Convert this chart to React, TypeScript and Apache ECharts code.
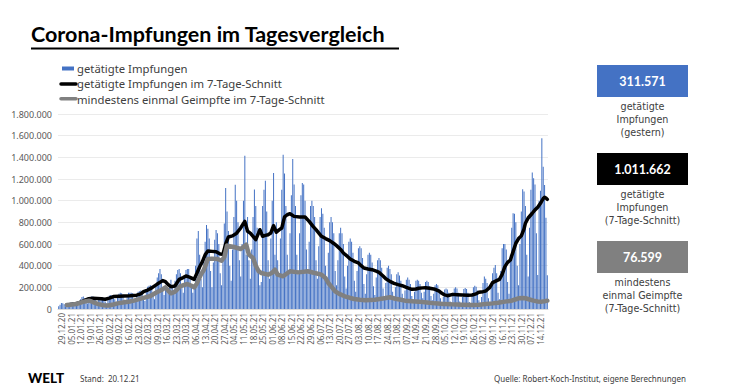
import React, { useEffect, useRef } from "react";
import * as echarts from "echarts";

// ---------- DATA ----------
// Daily vaccinations (thousands), starting Sun 27.12.20, then weekly rows Mon..Sun
const dailyDosesK: number[] = [
  25,
  40, 55, 52, 45, 22, 33, 25,
  55, 60, 62, 58, 60, 40, 30,
  75, 90, 110, 115, 100, 70, 50,
  95, 110, 115, 115, 110, 80, 55,
  90, 105, 105, 110, 100, 70, 50,
  105, 125, 130, 125, 130, 90, 65,
  115, 140, 150, 145, 135, 85, 60,
  120, 150, 150, 150, 145, 95, 65,
  135, 160, 165, 170, 165, 110, 75,
  170, 205, 215, 220, 215, 140, 90,
  230, 290, 330, 370, 320, 200, 130,
  200, 180, 190, 200, 270, 200, 140,
  260, 320, 360, 370, 330, 220, 150,
  300, 360, 370, 370, 280, 220, 150,
  200, 400, 650, 720, 500, 280, 200,
  450, 620, 776, 740, 650, 350, 200,
  430, 640, 730, 700, 600, 330, 220,
  480, 790, 1117, 900, 720, 400, 260,
  550, 850, 1148, 1000, 800, 450, 300,
  600, 1000, 1415, 500, 850, 450, 280,
  550, 850, 1102, 950, 750, 350, 220,
  250, 950, 1100, 1185, 900, 450, 280,
  650, 1000, 1255, 500, 800, 450, 300,
  650, 1100, 1425, 1250, 950, 500, 350,
  700, 1050, 1385, 1150, 950, 500, 320,
  700, 1050, 1163, 1150, 1000, 550, 330,
  620, 950, 1000, 950, 850, 450, 280,
  580, 850, 930, 880, 750, 400, 250,
  520, 800, 850, 800, 700, 350, 220,
  450, 700, 750, 700, 600, 300, 190,
  400, 620, 650, 620, 520, 260, 160,
  350, 560, 580, 560, 470, 230, 140,
  320, 500, 520, 500, 430, 210, 130,
  290, 450, 470, 450, 380, 190, 120,
  240, 380, 400, 370, 320, 160, 100,
  200, 320, 340, 310, 260, 140, 90,
  170, 270, 290, 270, 230, 120, 80,
  160, 260, 270, 260, 230, 150, 100,
  160, 250, 260, 250, 210, 120, 80,
  140, 220, 230, 220, 180, 100, 45,
  110, 180, 190, 180, 150, 70, 45,
  120, 190, 200, 190, 150, 70, 45,
  110, 185, 195, 185, 150, 65, 40,
  130, 200, 215, 205, 170, 80, 50,
  110, 240, 300, 280, 240, 100, 65,
  220, 330, 380, 406, 330, 150, 90,
  350, 560, 600, 600, 550, 250, 140,
  500, 750, 884, 880, 800, 400, 220,
  600, 900, 1106, 1084, 950, 500, 300,
  750, 1100, 1260, 1207, 1150, 700, 314,
  1000, 1092, 1576, 1314, 1145, 843, 312,
];

// 7-day average of all vaccinations (thousands), read at dates
const avgAllK: [string, number][] = [
  ["02.01.21", 38], ["06.01.21", 45], ["09.01.21", 50], ["12.01.21", 62], ["15.01.21", 80],
  ["18.01.21", 95], ["21.01.21", 100], ["24.01.21", 98], ["27.01.21", 94], ["30.01.21", 90],
  ["02.02.21", 100], ["05.02.21", 115], ["09.02.21", 118], ["13.02.21", 120], ["17.02.21", 122],
  ["22.02.21", 128], ["25.02.21", 140], ["27.02.21", 160], ["02.03.21", 175], ["05.03.21", 195],
  ["09.03.21", 230], ["13.03.21", 262], ["15.03.21", 252], ["17.03.21", 225], ["19.03.21", 206],
  ["22.03.21", 212], ["25.03.21", 274], ["28.03.21", 290], ["30.03.21", 305], ["02.04.21", 292],
  ["05.04.21", 274], ["07.04.21", 330], ["09.04.21", 390], ["11.04.21", 437], ["13.04.21", 500],
  ["15.04.21", 536], ["18.04.21", 532], ["21.04.21", 528], ["24.04.21", 508], ["26.04.21", 505],
  ["28.04.21", 600], ["30.04.21", 665], ["03.05.21", 675], ["06.05.21", 700], ["09.05.21", 748],
  ["11.05.21", 790], ["12.05.21", 809], ["14.05.21", 717], ["16.05.21", 700], ["18.05.21", 671],
  ["20.05.21", 640], ["22.05.21", 700], ["23.05.21", 732], ["25.05.21", 671], ["27.05.21", 680],
  ["29.05.21", 686], ["31.05.21", 702], ["02.06.21", 769], ["04.06.21", 708], ["06.06.21", 730],
  ["08.06.21", 748], ["10.06.21", 850], ["12.06.21", 870], ["14.06.21", 880], ["17.06.21", 855],
  ["21.06.21", 850], ["25.06.21", 849], ["28.06.21", 809], ["01.07.21", 760], ["03.07.21", 732],
  ["07.07.21", 671], ["10.07.21", 650], ["13.07.21", 631], ["16.07.21", 605], ["18.07.21", 585],
  ["21.07.21", 550], ["23.07.21", 517], ["26.07.21", 485], ["28.07.21", 462], ["31.07.21", 440],
  ["03.08.21", 425], ["05.08.21", 400], ["07.08.21", 378], ["10.08.21", 370], ["13.08.21", 363],
  ["16.08.21", 350], ["18.08.21", 338], ["21.08.21", 305], ["23.08.21", 280], ["26.08.21", 255],
  ["29.08.21", 237], ["01.09.21", 225], ["04.09.21", 215], ["07.09.21", 200], ["11.09.21", 182],
  ["14.09.21", 185], ["16.09.21", 191], ["19.09.21", 195], ["21.09.21", 197], ["24.09.21", 192],
  ["28.09.21", 182], ["01.10.21", 165], ["03.10.21", 145], ["05.10.21", 130], ["07.10.21", 123],
  ["11.10.21", 135], ["14.10.21", 132], ["18.10.21", 129], ["22.10.21", 127], ["25.10.21", 129],
  ["28.10.21", 140], ["30.10.21", 154], ["02.11.21", 160], ["04.11.21", 166], ["07.11.21", 200],
  ["09.11.21", 243], ["12.11.21", 262], ["14.11.21", 274], ["16.11.21", 320], ["18.11.21", 391],
  ["20.11.21", 430], ["22.11.21", 453], ["24.11.21", 530], ["26.11.21", 607], ["28.11.21", 650],
  ["30.11.21", 675], ["02.12.21", 740], ["03.12.21", 792], ["05.12.21", 840], ["08.12.21", 884],
  ["10.12.21", 915], ["12.12.21", 939], ["14.12.21", 976], ["16.12.21", 1020], ["17.12.21", 1032],
  ["18.12.21", 1025], ["19.12.21", 1012],
];

// 7-day average of first doses (thousands), read at dates
const avgFirstK: [string, number][] = [
  ["02.01.21", 37], ["06.01.21", 42], ["09.01.21", 46], ["12.01.21", 58], ["15.01.21", 70],
  ["18.01.21", 77], ["20.01.21", 70], ["22.01.21", 58], ["25.01.21", 45], ["29.01.21", 35],
  ["01.02.21", 32], ["05.02.21", 42], ["08.02.21", 52], ["13.02.21", 62], ["17.02.21", 70],
  ["20.02.21", 77], ["25.02.21", 95], ["01.03.21", 110], ["04.03.21", 120], ["08.03.21", 150],
  ["12.03.21", 175], ["15.03.21", 200], ["17.03.21", 170], ["19.03.21", 145], ["22.03.21", 160],
  ["26.03.21", 212], ["31.03.21", 231], ["03.04.21", 215], ["05.04.21", 200], ["07.04.21", 235],
  ["08.04.21", 268], ["10.04.21", 320], ["12.04.21", 360], ["15.04.21", 462], ["18.04.21", 465],
  ["22.04.21", 462], ["25.04.21", 445], ["27.04.21", 480], ["29.04.21", 585], ["04.05.21", 572],
  ["09.05.21", 554], ["13.05.21", 594], ["15.05.21", 502], ["18.05.21", 471], ["20.05.21", 400],
  ["22.05.21", 350], ["24.05.21", 332], ["29.05.21", 317], ["01.06.21", 335], ["03.06.21", 363],
  ["05.06.21", 317], ["09.06.21", 302], ["12.06.21", 330], ["14.06.21", 348], ["20.06.21", 338],
  ["27.06.21", 348], ["02.07.21", 332], ["07.07.21", 317], ["10.07.21", 285], ["12.07.21", 240],
  ["15.07.21", 195], ["17.07.21", 163], ["20.07.21", 140], ["24.07.21", 117], ["28.07.21", 102],
  ["31.07.21", 92], ["04.08.21", 85], ["08.08.21", 80], ["15.08.21", 86], ["22.08.21", 100],
  ["26.08.21", 108], ["30.08.21", 95], ["03.09.21", 85], ["06.09.21", 77], ["11.09.21", 72],
  ["16.09.21", 68], ["22.09.21", 60], ["28.09.21", 52], ["04.10.21", 47], ["10.10.21", 43],
  ["18.10.21", 40], ["25.10.21", 37], ["30.10.21", 40], ["04.11.21", 46], ["09.11.21", 52],
  ["13.11.21", 58], ["18.11.21", 68], ["23.11.21", 77], ["26.11.21", 90], ["28.11.21", 99],
  ["01.12.21", 102], ["03.12.21", 99], ["06.12.21", 88], ["09.12.21", 77], ["12.12.21", 70],
  ["15.12.21", 68], ["17.12.21", 72], ["19.12.21", 77],
];

const yTicks = [0, 200000, 400000, 600000, 800000, 1000000, 1200000, 1400000, 1600000, 1800000];
const legendLabels = [
  "getätigte Impfungen",
  "getätigte Impfungen im 7-Tage-Schnitt",
  "mindestens einmal Geimpfte im 7-Tage-Schnitt",
];
const kpiValues = ["311.571", "1.011.662", "76.599"];
const kpiCaptions = [
  ["getätigte", "Impfungen", "(gestern)"],
  ["getätigte", "Impfungen", "(7-Tage-Schnitt)"],
  ["mindestens", "einmal Geimpfte", "(7-Tage-Schnitt)"],
];
const kpiColors = ["#4472C4", "#000000", "#808080"];

// ---------- HELPERS ----------
const pad = (n: number) => (n < 10 ? "0" + n : "" + n);
function buildDates(n: number): string[] {
  const out: string[] = [];
  for (let i = 0; i < n; i++) {
    const d = new Date(Date.UTC(2020, 11, 27 + i));
    out.push(pad(d.getUTCDate()) + "." + pad(d.getUTCMonth() + 1) + "." + String(d.getUTCFullYear()).slice(2));
  }
  return out;
}
const fmt = (v: number) => String(Math.round(v)).replace(/\B(?=(\d{3})+(?!\d))/g, ".");

const FONT = 'Lato, "Noto Sans", sans-serif';
const SMALL = '"Noto Sans", Lato, sans-serif';
const WIDE = '"DejaVu Sans", "Noto Sans", sans-serif';

export default function App() {
  const ref = useRef<HTMLDivElement>(null);
  useEffect(() => {
    document.body.style.margin = "0";
    if (!ref.current) return;
    const chart = echarts.init(ref.current, undefined, { renderer: "svg" });
    const dates = buildDates(dailyDosesK.length);
    const bars = dailyDosesK.map((v) => v * 1000);
    const black = avgAllK.map(([d, v]) => [d, v * 1000]);
    const gray = avgFirstK.map(([d, v]) => [d, v * 1000]);

    const graphic: any[] = [
      { type: "text", x: 31, y: 34, style: { text: "Corona-Impfungen im Tagesvergleich", fill: "#000", fontSize: 21.5, fontWeight: "bold", fontFamily: FONT, textVerticalAlign: "middle" } },
      { type: "line", shape: { x1: 31, y1: 48.5, x2: 399, y2: 48.5 }, style: { stroke: "#000", lineWidth: 2 } },
      // legend
      { type: "rect", shape: { x: 62, y: 66.5, width: 12, height: 4 }, style: { fill: "#4472C4" } },
      { type: "line", shape: { x1: 61, y1: 84, x2: 76, y2: 84 }, style: { stroke: "#000", lineWidth: 3.5, lineCap: "round" } },
      { type: "line", shape: { x1: 61, y1: 98.7, x2: 76, y2: 98.7 }, style: { stroke: "#808080", lineWidth: 3.5, lineCap: "round" } },
      ...legendLabels.map((t, k) => ({
        type: "text", x: 77, y: [68.5, 83.5, 99][k],
        style: { text: t, fill: "#404040", fontSize: 11.3, fontFamily: SMALL, textVerticalAlign: "middle" },
      })),
      // footer
      { type: "text", x: 28, y: 378, style: { text: "WELT", fill: "#000", fontSize: 13.5, fontWeight: 900, fontFamily: FONT, textVerticalAlign: "middle" } },
      { type: "text", x: 80, y: 378, style: { text: "Stand:  20.12.21", fill: "#404040", fontSize: 8, fontFamily: SMALL, textVerticalAlign: "middle" } },
      { type: "text", x: 686, y: 378, style: { text: "Quelle: Robert-Koch-Institut, eigene Berechnungen", fill: "#404040", fontSize: 8, fontFamily: SMALL, textAlign: "right", textVerticalAlign: "middle" } },
    ];
    const boxTops = [65, 153, 241];
    kpiValues.forEach((val, k) => {
      const top = boxTops[k];
      graphic.push({ type: "rect", shape: { x: 597, y: top, width: 91, height: 32 }, style: { fill: kpiColors[k] } });
      graphic.push({ type: "text", x: 642.5, y: top + 16, style: { text: val, fill: "#fff", fontSize: 12.5, fontWeight: "bold", fontFamily: FONT, textAlign: "center", textVerticalAlign: "middle" } });
      kpiCaptions[k].forEach((line, j) => {
        graphic.push({ type: "text", x: 642.5, y: top + 41.5 + j * 13, style: { text: line, fill: "#404040", fontSize: 9.6, fontFamily: WIDE, textAlign: "center", textVerticalAlign: "middle" } });
      });
    });

    chart.setOption({
      animation: false,
      textStyle: { fontFamily: SMALL },
      grid: { left: 58, right: 184, top: 114, bottom: 83, containLabel: false },
      xAxis: {
        type: "category",
        data: dates,
        boundaryGap: true,
        axisTick: { show: false },
        axisLine: { show: true, lineStyle: { color: "#d9d9d9" } },
        axisLabel: {
          interval: (idx: number) => idx % 7 === 2,
          rotate: 90,
          fontSize: 8,
          color: "#595959",
          margin: 4,
        },
      },
      yAxis: {
        type: "value",
        min: yTicks[0],
        max: yTicks[yTicks.length - 1],
        interval: yTicks[1] - yTicks[0],
        axisLine: { show: false },
        axisTick: { show: false },
        axisLabel: { formatter: (v: number) => fmt(v), fontSize: 9, color: "#595959", margin: 6 },
        splitLine: { lineStyle: { color: "#ebebeb", width: 1 } },
      },
      series: [
        { name: legendLabels[0], type: "bar", data: bars, itemStyle: { color: "#4472C4" }, barCategoryGap: "28%" },
        { name: legendLabels[1], type: "line", data: black, symbol: "none", connectNulls: true, lineStyle: { color: "#000", width: 3.5, cap: "round", join: "round" }, z: 3 },
        { name: legendLabels[2], type: "line", data: gray, symbol: "none", connectNulls: true, lineStyle: { color: "#808080", width: 4.5, cap: "round", join: "round" }, z: 4 },
      ],
      graphic,
    });
    return () => chart.dispose();
  }, []);
  return <div ref={ref} style={{ width: 732, height: 392 }} />;
}
